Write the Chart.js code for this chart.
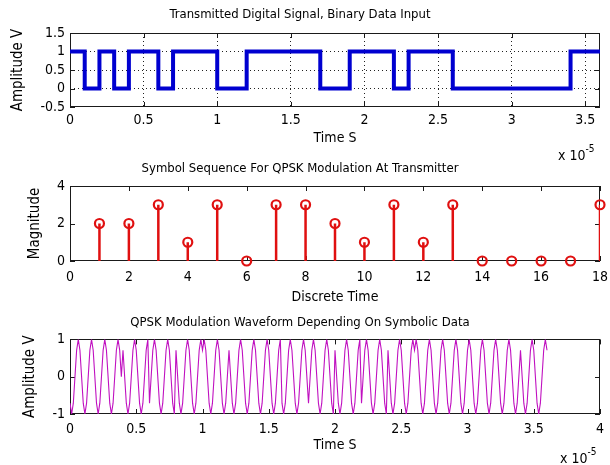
<!DOCTYPE html>
<html>
<head>
<meta charset="utf-8">
<script src="https://cdn.jsdelivr.net/npm/chart.js@4.4.1/dist/chart.umd.min.js"></script>
<style>
html,body{margin:0;padding:0;background:#fff;width:610px;height:465px;overflow:hidden;}
.wrap{position:absolute;left:0;width:610px;}
.exp{position:absolute;font-family:'Liberation Sans Narrow','Arial Narrow','DejaVu Sans Condensed','Liberation Sans',sans-serif;font-size:14px;color:#000;line-height:14px;white-space:nowrap;}
.exp sup{font-size:10px;position:relative;top:-2px;}
</style>
</head>
<body>
<div class="wrap" style="top:0;height:160px"><canvas id="c1" width="610" height="160"></canvas></div>
<div class="wrap" style="top:160px;height:150px"><canvas id="c2" width="610" height="150"></canvas></div>
<div class="wrap" style="top:310px;height:155px"><canvas id="c3" width="610" height="155"></canvas></div>
<div class="exp" style="left:558px;top:144px">x 10<sup>-5</sup></div>
<div class="exp" style="left:560px;top:447px">x 10<sup>-5</sup></div>
<script>
// ---------- data ----------
// Transmitted binary data (one bit per 1e-6 s)
const bitValues = [1,0,1,0,1,1,0,1,1,1,0,0,1,1,1,1,1,0,0,1,1,1,0,1,1,1,0,0,0,0,0,0,0,0,1,1];
const bitPeriod = 1e-6;
// QPSK symbol sequence
const symbolIndex  = [1,2,3,4,5,6,7,8,9,10,11,12,13,14,15,16,17,18];
const symbolValues = [2,2,3,1,3,0,3,3,2,1,3,1,3,0,0,0,0,3];
// QPSK waveform samples (every 0.125e-6 s), one row per symbol
const qpskSamples = [
  -.71,-1,-.71,0,.71,1,.71,0,-.71,-1,-.71,0,.71,1,.71,0,
  -.71,-1,-.71,0,.71,1,.71,0,-.71,-1,-.71,0,.71,1,.71,0,
  .71,0,-.71,-1,-.71,0,.71,1,.71,0,-.71,-1,-.71,0,.71,1,
  -.71,0,.71,1,.71,0,-.71,-1,-.71,0,.71,1,.71,0,-.71,-1,
  .71,0,-.71,-1,-.71,0,.71,1,.71,0,-.71,-1,-.71,0,.71,1,
  .71,1,.71,0,-.71,-1,-.71,0,.71,1,.71,0,-.71,-1,-.71,0,
  .71,0,-.71,-1,-.71,0,.71,1,.71,0,-.71,-1,-.71,0,.71,1,
  .71,0,-.71,-1,-.71,0,.71,1,.71,0,-.71,-1,-.71,0,.71,1,
  -.71,-1,-.71,0,.71,1,.71,0,-.71,-1,-.71,0,.71,1,.71,0,
  -.71,0,.71,1,.71,0,-.71,-1,-.71,0,.71,1,.71,0,-.71,-1,
  .71,0,-.71,-1,-.71,0,.71,1,.71,0,-.71,-1,-.71,0,.71,1,
  -.71,0,.71,1,.71,0,-.71,-1,-.71,0,.71,1,.71,0,-.71,-1,
  .71,0,-.71,-1,-.71,0,.71,1,.71,0,-.71,-1,-.71,0,.71,1,
  .71,1,.71,0,-.71,-1,-.71,0,.71,1,.71,0,-.71,-1,-.71,0,
  .71,1,.71,0,-.71,-1,-.71,0,.71,1,.71,0,-.71,-1,-.71,0,
  .71,1,.71,0,-.71,-1,-.71,0,.71,1,.71,0,-.71,-1,-.71,0,
  .71,1,.71,0,-.71,-1,-.71,0,.71,1,.71,0,-.71,-1,-.71,0,
  .71,0,-.71,-1,-.71,0,.71,1,.71,0,-.71,-1,-.71,0,.71,1,
  .71
];
const sampleStep = 0.125e-6;
// tick labels (time axes in units of 1e-5 s)
const topXTicks = [0,0.5,1,1.5,2,2.5,3,3.5];
const topYTicks = [-0.5,0,0.5,1,1.5];
const midXTicks = [0,2,4,6,8,10,12,14,16,18];
const midYTicks = [0,2,4];
const botXTicks = [0,0.5,1,1.5,2,2.5,3,3.5,4];
const botYTicks = [-1,0,1];
const timeUnit = 1e-5;

// ---------- styling helpers ----------
const FONT = "'Liberation Sans Narrow','Arial Narrow','DejaVu Sans Condensed','Liberation Sans',sans-serif";
Chart.defaults.font.family = FONT;
Chart.defaults.color = '#000';

const fmt = v => String(Number(v.toFixed(4)));

const boxPlugin = {
  id: 'matlabBox',
  beforeDatasetsDraw(chart) {
    const {ctx, chartArea: a} = chart;
    const x = chart.scales.x, y = chart.scales.y;
    ctx.save();
    ctx.strokeStyle = '#1a1a1a';
    ctx.lineWidth = 1;
    ctx.strokeRect(Math.round(a.left) + 0.5, Math.round(a.top) + 0.5,
                   Math.round(a.width) - 1, Math.round(a.height) - 1);
    const L = 5;
    ctx.beginPath();
    x.ticks.forEach(t => {
      const px = Math.round(x.getPixelForValue(t.value)) + 0.5;
      ctx.moveTo(px, a.bottom); ctx.lineTo(px, a.bottom - L);
      ctx.moveTo(px, a.top); ctx.lineTo(px, a.top + L);
    });
    y.ticks.forEach(t => {
      const py = Math.round(y.getPixelForValue(t.value)) + 0.5;
      ctx.moveTo(a.left, py); ctx.lineTo(a.left + L, py);
      ctx.moveTo(a.right, py); ctx.lineTo(a.right - L, py);
    });
    ctx.stroke();
    ctx.restore();
  }
};

function gridOpts(min, max, on) {
  if (!on) return {display: false, drawTicks: false};
  return {
    display: true, drawTicks: false, lineWidth: 1,
    color: c => (c.tick && (Math.abs(c.tick.value - min) < 1e-12 || Math.abs(c.tick.value - max) < 1e-12)) ? 'rgba(0,0,0,0)' : '#222'
  };
}

function xScale(ticksArr, unit, min, max, height, title, titlePad, grid, tickPad) {
  return {
    type: 'linear', min: min, max: max,
    afterBuildTicks: s => { s.ticks = ticksArr.map(v => ({value: v * unit})); },
    afterFit: s => { s.height = height; s.paddingLeft = 0; s.paddingRight = 0; },
    ticks: {autoSkip: false, maxRotation: 0, padding: tickPad, font: {size: 14},
            callback: v => fmt(v / unit)},
    grid: gridOpts(min, max, grid),
    border: {display: false, dash: [1, 3]},
    title: {display: true, text: title, font: {size: 14}, padding: {top: 0, bottom: titlePad}}
  };
}
function yScale(ticksArr, min, max, title, titlePad, grid) {
  return {
    type: 'linear', min: min, max: max,
    afterBuildTicks: s => { s.ticks = ticksArr.map(v => ({value: v})); },
    afterFit: s => { s.width = 70; s.paddingTop = 0; s.paddingBottom = 0; },
    ticks: {autoSkip: false, padding: 5, font: {size: 14}, callback: v => fmt(v)},
    grid: gridOpts(min, max, grid),
    border: {display: false, dash: [1, 3]},
    title: {display: true, text: title, font: {size: 15}, padding: {top: titlePad, bottom: 0}}
  };
}
function baseOptions(title, tTop, tBottom, scales) {
  return {
    responsive: false, animation: false, events: [],
    layout: {padding: {left: 0, right: 10, top: 0, bottom: 0}},
    plugins: {
      legend: {display: false}, tooltip: {enabled: false},
      title: {display: true, text: title, color: '#000', font: {size: 13, weight: 'normal'},
              padding: {top: tTop, bottom: tBottom}}
    },
    scales: scales
  };
}

// ---------- chart 1: digital signal ----------
const digitalData = bitValues.map((b, i) => ({x: i * bitPeriod, y: b}));
digitalData.push({x: bitValues.length * bitPeriod, y: bitValues[bitValues.length - 1]});
new Chart(document.getElementById('c1'), {
  type: 'line',
  data: {datasets: [{data: digitalData, stepped: 'before', borderColor: '#0000d0', borderWidth: 4,
                     pointRadius: 0, fill: false}]},
  options: baseOptions('Transmitted Digital Signal, Binary Data Input', 7, 10.4, {
    x: xScale(topXTicks, timeUnit, 0, 3.6e-5, 53, 'Time S', 13, true, 5),
    y: yScale(topYTicks, -0.5, 1.5, 'Amplitude V', 9, true)
  }),
  plugins: [boxPlugin]
});

// ---------- chart 2: symbol stem plot ----------
const stemData = [];
symbolIndex.forEach((k, i) => {
  stemData.push({x: k, y: 0}, {x: k, y: symbolValues[i]}, {x: k, y: null});
});
const markerData = symbolIndex.map((k, i) => ({x: k, y: symbolValues[i]}));
new Chart(document.getElementById('c2'), {
  type: 'line',
  data: {datasets: [
    {data: stemData, borderColor: '#e01010', borderWidth: 2.5, pointRadius: 0, spanGaps: false, fill: false},
    {data: markerData, showLine: false, pointRadius: 4.5, pointBorderWidth: 2.2, pointBorderColor: '#e01010',
     pointBackgroundColor: 'rgba(255,255,255,0)', clip: false}
  ]},
  options: baseOptions('Symbol Sequence For QPSK Modulation At Transmitter', 1, 9.4, {
    x: xScale(midXTicks, 1, 0, 18, 49, 'Discrete Time', 4, false, 8),
    y: yScale(midYTicks, 0, 4, 'Magnitude', 26, false)
  }),
  plugins: [boxPlugin]
});

// ---------- chart 3: QPSK waveform ----------
const waveData = qpskSamples.map((v, i) => ({x: i * sampleStep, y: v}));
new Chart(document.getElementById('c3'), {
  type: 'line',
  data: {datasets: [{data: waveData, borderColor: '#c010c0', borderWidth: 1.1, pointRadius: 0,
                     fill: false, tension: 0}]},
  options: baseOptions('QPSK Modulation Waveform Depending On Symbolic Data', 5, 8.8, {
    x: xScale(botXTicks, timeUnit, 0, 4e-5, 51, 'Time S', 11, false, 7),
    y: yScale(botYTicks, -1, 1, 'Amplitude V', 21, false)
  }),
  plugins: [boxPlugin]
});
</script>
</body>
</html>
